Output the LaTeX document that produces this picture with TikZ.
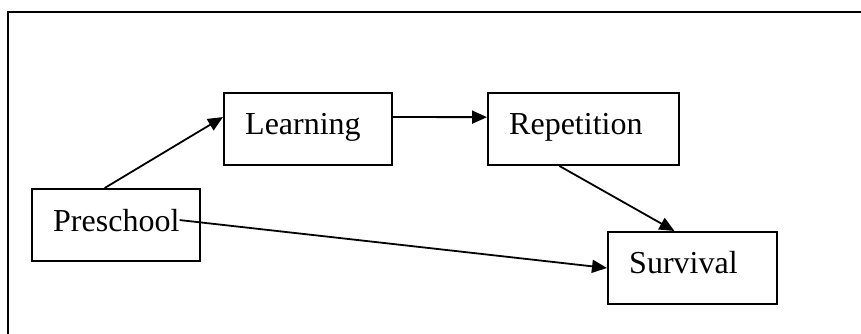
\documentclass[tikz,border=0pt]{standalone}
\usepackage{fontspec}
\setmainfont{Liberation Serif}
\usetikzlibrary{arrows.meta}
\begin{document}
\begin{tikzpicture}[x=1pt,y=-1pt,
  box/.style={draw,line width=2pt,rectangle,inner sep=0pt,minimum height=72pt},
  lbl/.style={anchor=base west,inner sep=0pt,font=\fontsize{32}{38}\selectfont},
  conn/.style={line width=1.8pt,-{Triangle[length=15pt,width=13pt]}}]
\useasboundingbox (0,0) rectangle (861,334);
\draw[line width=2pt] (861,12) coordinate (fr1) -- (8,12) coordinate (fr2) -- (8,334) coordinate (fr3);
\node[box,minimum width=168pt] (pre) at (116,225) {};
\node[box,minimum width=168pt] (learn) at (308,129) {};
\node[box,minimum width=191pt] (rep) at (583.5,129) {};
\node[box,minimum width=169pt] (surv) at (692.5,268) {};
\node[lbl] (pret) at (53,231) {Preschool};
\node[lbl] (learnt) at (245,135) {Learning};
\node[lbl] (rept) at (509,134) {Repetition};
\node[lbl] (survt) at (629,273) {Survival};
\draw[conn] (pre.107) -- (learn.172);
\draw[conn] (learn.8) -- (rep.173);
\draw[conn] (rep.237) -- (surv.116);
\draw[conn] (pret.east) -- (surv.west);
\end{tikzpicture}
\end{document}
